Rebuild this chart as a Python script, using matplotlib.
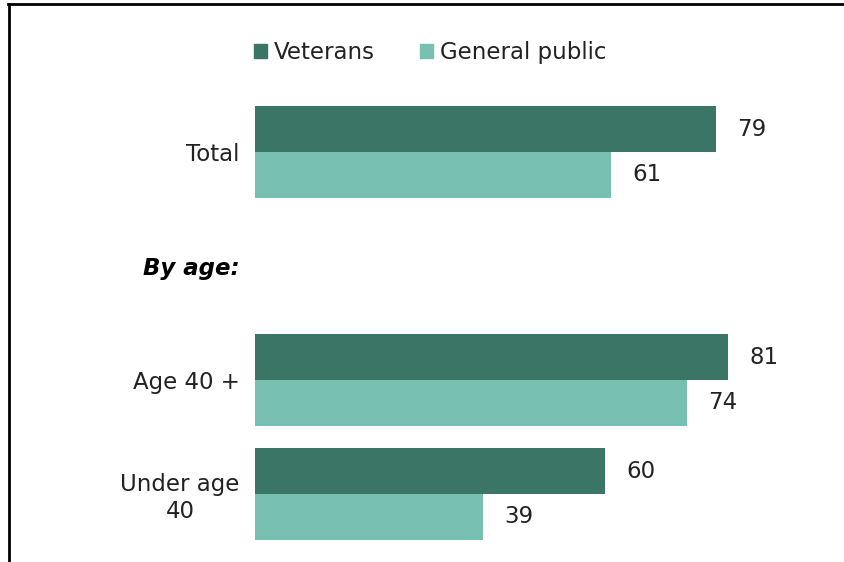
import matplotlib.pyplot as plt
from matplotlib.lines import Line2D
from matplotlib.patches import Patch

categories = ["Total", "By age:", "Age 40 +", "Under age\n40"]
veterans = [79, None, 81, 60]
general_public = [61, None, 74, 39]

dark = "#3a7565"
light = "#77bfb0"
fs = 16.5

plt.rcParams['font.family'] = ['DejaVu Sans']
fig = plt.figure(figsize=(8.45, 5.62), dpi=100)
W, H = 845, 562
# axes box in pixels: left 255, slots centred at 152..494 px
ax = fig.add_axes([255 / W, 1 - 551 / H, 583.5 / W, 456 / H])

h = 0.4
for i, (v, g) in enumerate(zip(veterans, general_public)):
    if v is None:
        continue
    ax.barh(i - h / 2, v, height=h, color=dark)
    ax.barh(i + h / 2, g, height=h, color=light)
    ax.text(v + 3.7, i - h / 2, str(v), va='center', ha='left', fontsize=fs, color='#222222')
    ax.text(g + 3.7, i + h / 2, str(g), va='center', ha='left', fontsize=fs, color='#222222')

ax.set_xlim(0, 100)
ax.set_ylim(3.5, -0.5)
ax.set_yticks(range(len(categories)))
ax.set_yticklabels(categories, fontsize=fs, color='#222222')
for lab in ax.get_yticklabels():
    lab.set_multialignment('center')
ax.get_yticklabels()[1].set_fontweight('bold')
ax.get_yticklabels()[1].set_fontstyle('italic')
ax.get_yticklabels()[1].set_color('black')
ax.tick_params(axis='y', length=0, pad=11)
ax.set_xticks([])
for s in ax.spines.values():
    s.set_visible(False)

handles = [Patch(color=dark, label="Veterans"), Patch(color=light, label="General public")]
fig.legend(handles=handles, loc='center', bbox_to_anchor=(430 / W, 1 - 53 / H), ncol=2,
           frameon=False, fontsize=fs, handlelength=0.55, handleheight=0.55,
           handletextpad=0.3, columnspacing=2.0, labelcolor='#222222')

# frame lines on top and left
fig.add_artist(Line2D([8 / W, 1], [1 - 4 / H, 1 - 4 / H], color='black', lw=2, transform=fig.transFigure))
fig.add_artist(Line2D([9 / W, 9 / W], [0, 1 - 4 / H], color='black', lw=2, transform=fig.transFigure))

fig.savefig("out.png", dpi=100)
